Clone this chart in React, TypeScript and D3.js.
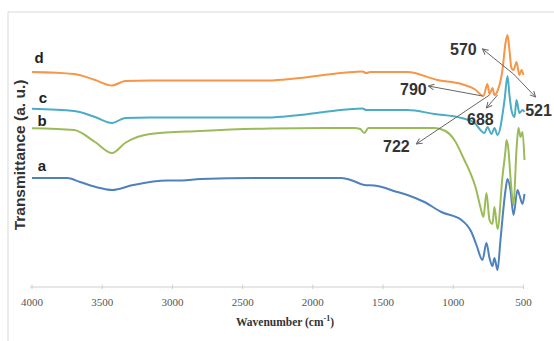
import React from "react";
import * as d3 from "d3";

// [wavenumber (cm^-1), transmittance (a.u.)]
const seriesA: [number, number][] = [
  [4000, 43.6], [3750, 43.6], [3658, 42.0], [3515, 39.6], [3430, 38.8], [3280, 40.8],
  [3038, 42.6], [2931, 42.6], [2802, 43.2], [2232, 43.6],
  [1797, 43.6], [1720, 42.6], [1633, 40.8], [1562, 40.6], [1398, 38.0], [1327, 36.8], [1206, 34.0],
  [1085, 30.0], [942, 26.8], [871, 22.0], [835, 16.8], [792, 10.8], [764, 17.6],
  [742, 11.6], [721, 8.4], [707, 11.6], [685, 6.8], [664, 18.8], [628, 38.8],
  [614, 43.2], [593, 38.8], [571, 28.8], [543, 38.8], [529, 36.8], [507, 33.2], [493, 37.2],
];
const seriesB: [number, number][] = [
  [4000, 63.5], [3700, 62.8], [3551, 58.0], [3430, 53.6], [3337, 57.6], [3159, 61.2],
  [2802, 62.4], [2303, 63.4], [1705, 63.6], [1662, 63.2], [1633, 61.6], [1605, 63.6],
  [1134, 63.6], [1056, 62.4], [992, 58.8], [921, 50.8], [878, 45.6], [842, 40.0],
  [807, 32.0], [785, 28.0], [764, 37.6], [742, 26.8], [721, 25.2], [707, 32.0],
  [685, 23.2], [650, 44.0], [628, 54.8], [621, 58.8], [607, 54.8], [593, 44.0],
  [571, 32.8], [550, 54.8], [536, 63.6], [521, 60.0], [507, 62.0], [493, 50.8],
];
const seriesC: [number, number][] = [
  [4000, 71.3], [3700, 70.4], [3551, 68.0], [3430, 65.6], [3337, 67.6], [3159, 67.8],
  [2303, 67.8], [2200, 68.2], [2090, 68.8], [1950, 69.8], [1800, 70.8], [1705, 71.2],
  [1648, 71.4], [1619, 70.8], [1327, 70.8],
  [1134, 69.2], [942, 67.6], [849, 65.6], [778, 61.6], [757, 64.0], [728, 61.2],
  [707, 63.6], [685, 60.8], [635, 74.8], [614, 84.4], [600, 76.8], [586, 70.8],
  [564, 68.0], [550, 74.8], [529, 69.6], [507, 70.8], [493, 70.0],
];
const seriesD: [number, number][] = [
  [4000, 86.0], [3700, 85.2], [3551, 82.8], [3430, 80.6], [3337, 82.4], [3159, 82.6],
  [2303, 82.6], [2200, 83.0], [2090, 83.6], [1950, 84.6], [1800, 85.6], [1705, 86.0],
  [1648, 86.2], [1619, 85.6], [1591, 86.0],
  [1327, 86.0], [1113, 82.8], [942, 81.2], [849, 79.2], [785, 76.4], [757, 81.2],
  [742, 77.2], [721, 79.6], [707, 76.8], [685, 78.4], [650, 86.8], [628, 97.6],
  [614, 100.8], [600, 94.8], [586, 87.6], [571, 86.8], [550, 90.0], [529, 84.8],
  [514, 86.8], [500, 84.8],
];

const seriesNames = ["a", "b", "c", "d"];
const seriesColors = ["#4F81BD", "#9BBB59", "#4BACC6", "#F79646"];
const seriesData = [seriesA, seriesB, seriesC, seriesD];
// label positions [wavenumber, value]
const seriesLabelPos: [number, number][] = [[3929, 48.8], [3929, 66.8], [3922, 76], [3950, 92]];

const xTicks = [4000, 3500, 3000, 2500, 2000, 1500, 1000, 500];

// annotations: label, label position, arrow start, arrow end (wavenumber, value)
const annLabels = ["570", "521", "790", "688", "722"];
const annTextPos: [number, number][] = [[928, 95.2], [393, 70.8], [1284, 79.2], [807, 67.2], [1405, 56.4]];
const annFrom: [number, number][] = [[571, 85.2], [571, 85.2], [792, 76.4], [685, 76.8], [742, 76.8]];
const annTo: [number, number][] = [[792, 95.2], [414, 76.0], [1177, 80.4], [764, 71.6], [1263, 57.2]];

export default function App() {
  const W = 554, H = 341;
  const x = d3.scaleLinear().domain([4000, 500]).range([32, 523.5]);
  const y = d3.scaleLinear().domain([0, 110]).range([287, 12]);
  const line = d3
    .line<[number, number]>()
    .x((d) => x(d[0]))
    .y((d) => y(d[1]))
    .curve(d3.curveMonotoneX);

  return (
    <svg width={W} height={H} style={{ position: "absolute", left: 0, top: 0, background: "#fff" }}>
      <defs>
        <marker id="arr" viewBox="0 0 10 10" refX="9" refY="5" markerWidth="7" markerHeight="7" orient="auto-start-reverse" markerUnits="userSpaceOnUse">
          <path d="M1,1 L9,5 L1,9" fill="none" stroke="#666" strokeWidth="1.4" />
        </marker>
      </defs>
      <rect x={0} y={0} width={W} height={H} fill="#fff" />
      {/* frame */}
      <line x1={8} y1={12} x2={W} y2={12} stroke="#d9d9d9" strokeWidth={1} />
      <line x1={8} y1={12} x2={8} y2={H} stroke="#d9d9d9" strokeWidth={1} />
      {/* x axis */}
      <line x1={30} y1={287} x2={524} y2={287} stroke="#d0d0d0" strokeWidth={1.2} />
      {xTicks.map((t) => (
        <g key={t}>
          <line x1={x(t)} x2={x(t)} y1={284.5} y2={289} stroke="#d0d0d0" strokeWidth={1} />
          <text x={x(t)} y={302} textAnchor="middle" dominantBaseline="central" fontFamily="Liberation Serif, Times New Roman, serif" fontSize={11} fill="#555">
            {t}
          </text>
        </g>
      ))}
      <text x={285} y={322} textAnchor="middle" dominantBaseline="central" fontFamily="Liberation Serif, Times New Roman, serif" fontSize={11.5} fontWeight="bold" fill="#333">
        Wavenumber (cm
        <tspan dy={-4} fontSize={8}>-1</tspan>
        <tspan dy={4}>)</tspan>
      </text>
      <text transform="translate(19,155) rotate(-90)" textAnchor="middle" dominantBaseline="central" fontFamily="Liberation Sans, Arial, sans-serif" fontSize={15.5} fontWeight="bold" fill="#333">
        Transmittance (a. u.)
      </text>
      {/* series */}
      {seriesData.map((s, i) => (
        <path key={seriesNames[i]} d={line(s) || ""} fill="none" stroke={seriesColors[i]} strokeWidth={2} strokeLinejoin="round" />
      ))}
      {seriesNames.map((n, i) => (
        <text key={n} x={x(seriesLabelPos[i][0])} y={y(seriesLabelPos[i][1])} textAnchor="middle" dominantBaseline="central" fontFamily="Liberation Sans, Arial, sans-serif" fontSize={15} fontWeight="bold" fill="#222">
          {n}
        </text>
      ))}
      {/* annotations */}
      {annLabels.map((l, i) => (
        <g key={l}>
          <line x1={x(annFrom[i][0])} y1={y(annFrom[i][1])} x2={x(annTo[i][0])} y2={y(annTo[i][1])} stroke="#666" strokeWidth={1} markerEnd="url(#arr)" />
          <text x={x(annTextPos[i][0])} y={y(annTextPos[i][1])} textAnchor="middle" dominantBaseline="central" fontFamily="Liberation Sans, Arial, sans-serif" fontSize={16} fontWeight="bold" fill="#333">
            {l}
          </text>
        </g>
      ))}
    </svg>
  );
}
